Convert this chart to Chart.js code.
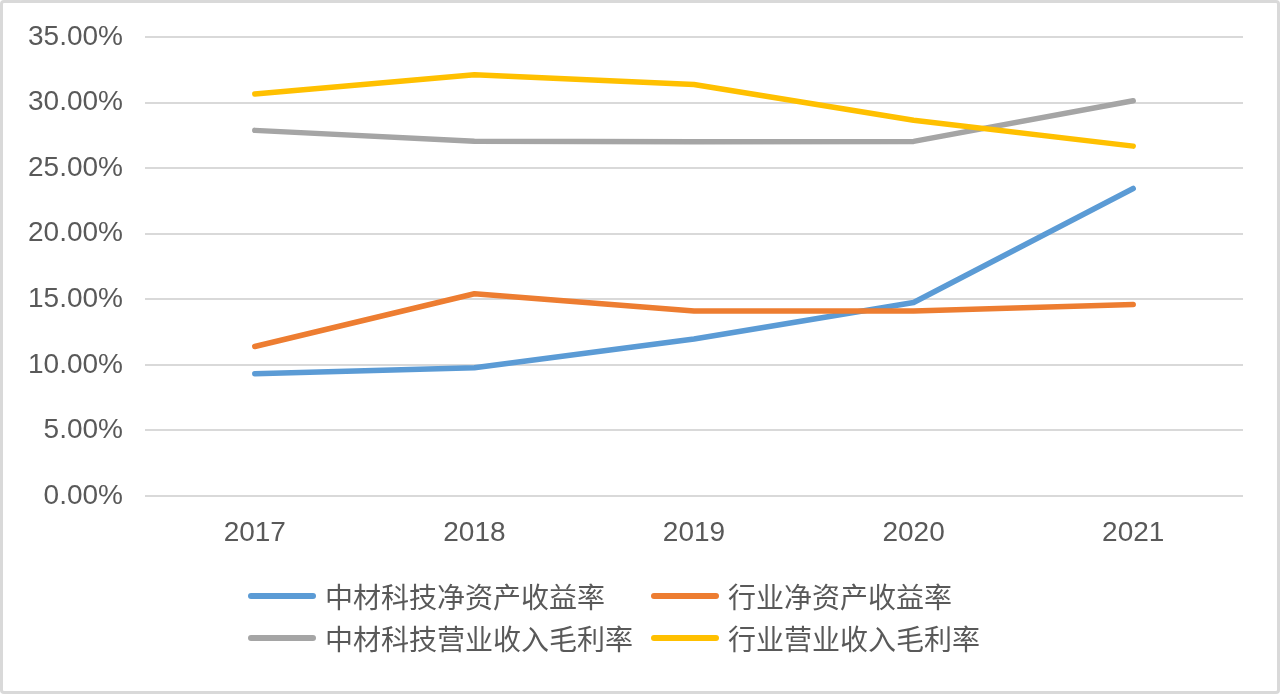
<!DOCTYPE html>
<html>
<head>
<meta charset="utf-8">
<script src="https://cdn.jsdelivr.net/npm/chart.js@4"></script>
<style>
  html, body { margin: 0; padding: 0; background: #fff; }
  .frame {
    position: absolute; left: 0; top: 0;
    width: 1274px; height: 688px;
    border: 3px solid #d9d9d9; border-radius: 4px;
    background: #fff;
  }
  #chart { position: absolute; left: 0; top: 0; }
  .legend {
    position: absolute; left: 245px; top: 575px;
    display: grid; grid-template-columns: 403px 330px; row-gap: 6px;
    font-family: "Noto Sans CJK SC", sans-serif; font-size: 28px; color: #595959;
  }
  .legend .item { display: flex; align-items: center; height: 36px; white-space: nowrap; }
  .legend .swatch { width: 68px; height: 6px; border-radius: 3px; margin-right: 9px; flex: none; }
</style>
</head>
<body>
<div class="frame">
  <canvas id="chart" width="1274" height="688"></canvas>
  <div class="legend" id="legend"></div>
</div>
<script>
// ---- data ----
const years = ['2017', '2018', '2019', '2020', '2021'];
const companyRoe = [9.32, 9.78, 11.97, 14.75, 23.45];
const industryRoe = [11.4, 15.42, 14.1, 14.1, 14.6];
const companyMargin = [27.88, 27.05, 27.02, 27.04, 30.14];
const industryMargin = [30.66, 32.12, 31.38, 28.65, 26.68];

const seriesNames = ['中材科技净资产收益率', '行业净资产收益率', '中材科技营业收入毛利率', '行业营业收入毛利率'];
const seriesColors = ['#5B9BD5', '#ED7D31', '#A5A5A5', '#FFC000'];
const seriesData = [companyRoe, industryRoe, companyMargin, industryMargin];

const tickFont = { family: '"Liberation Sans", Arial, sans-serif', size: 28 };

const datasets = seriesNames.map((name, i) => ({
  label: name,
  data: seriesData[i],
  borderColor: seriesColors[i],
  backgroundColor: seriesColors[i],
  borderWidth: 5.5,
  borderCapStyle: 'round',
  borderJoinStyle: 'round',
  pointRadius: 0,
  tension: 0,
  order: 4 - i,
}));

new Chart(document.getElementById('chart'), {
  type: 'line',
  data: { labels: years, datasets },
  options: {
    responsive: false,
    animation: false,
    layout: { padding: { top: 34, right: 34, bottom: 0, left: 0 } },
    plugins: { legend: { display: false }, tooltip: { enabled: false } },
    scales: {
      x: {
        offset: true,
        grid: { display: false, drawTicks: false },
        border: { display: false },
        ticks: { color: '#595959', font: tickFont, padding: 20 },
        afterFit: (s) => { s.height = 195; },
      },
      y: {
        min: 0, max: 35,
        grid: { color: '#d9d9d9', lineWidth: 2, drawTicks: false },
        border: { display: false },
        ticks: {
          stepSize: 5, color: '#595959', font: tickFont, padding: 22,
          callback: (v) => v.toFixed(2) + '%',
        },
        afterFit: (s) => { s.width = 142; s.paddingTop = 0; s.paddingBottom = 0; },
      },
    },
  },
});

// legend (2 x 2 like the source)
const legendEl = document.getElementById('legend');
seriesNames.forEach((name, i) => {
  const item = document.createElement('div');
  item.className = 'item';
  item.innerHTML = `<span class="swatch" style="background:${seriesColors[i]}"></span><span>${name}</span>`;
  legendEl.appendChild(item);
});
</script>
</body>
</html>
